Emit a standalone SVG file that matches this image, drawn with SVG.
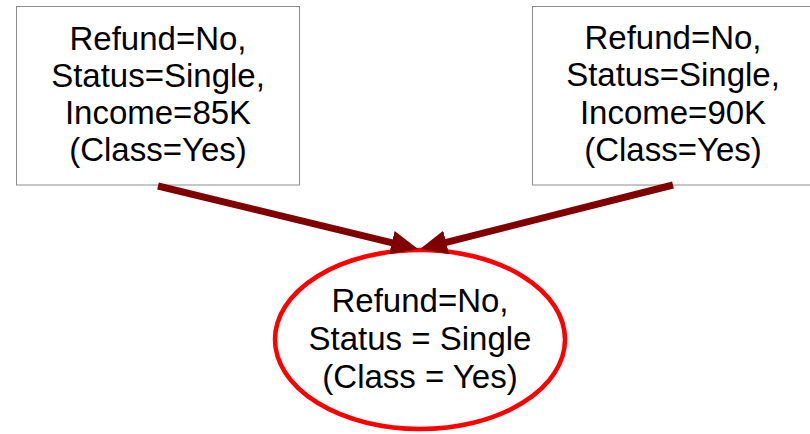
<svg xmlns="http://www.w3.org/2000/svg" width="810" height="434" viewBox="0 0 810 434">
<style>
.box{fill:#ffffff;stroke:#8c8c8c;stroke-width:1}
.oval{fill:#ffffff;stroke:#ff0000;stroke-width:4.5}
.t{font-family:"Liberation Sans",Arial,sans-serif;font-size:33px;fill:#000000;text-anchor:middle}
.edge{fill:none;stroke:#800000;stroke-width:7}
</style>
<defs>
<marker id="ah" viewBox="0 0 27 24" refX="7" refY="12" markerWidth="27" markerHeight="24" markerUnits="userSpaceOnUse" orient="auto">
<path d="M0,0 L27,12 L0,24 z" fill="#800000"/>
</marker>
</defs>
<rect width="810" height="434" fill="#ffffff"/>
<g id="node-left">
<rect class="box" x="16.5" y="6.5" width="283" height="178.5"/>
<text class="t" x="158" y="49.5">Refund=No,</text>
<text class="t" x="158" y="86.5">Status=Single,</text>
<text class="t" x="158" y="124">Income=85K</text>
<text class="t" x="158" y="161">(Class=Yes)</text>
</g>
<g id="node-right">
<rect class="box" x="532.5" y="6.5" width="290" height="178.5"/>
<text class="t" x="673" y="49">Refund=No,</text>
<text class="t" x="673" y="86">Status=Single,</text>
<text class="t" x="673" y="123.5">Income=90K</text>
<text class="t" x="673" y="160.5">(Class=Yes)</text>
</g>
<g id="node-bottom">
<ellipse class="oval" cx="420" cy="339.5" rx="145" ry="89.5"/>
<text class="t" x="420" y="312">Refund=No,</text>
<text class="t" x="420" y="350">Status = Single</text>
<text class="t" x="420" y="388">(Class = Yes)</text>
</g>
<g id="connectors">
<path class="edge" d="M158,186 L398.6,244.3" marker-end="url(#ah)"/>
<path class="edge" d="M673,185 L439.4,244.1" marker-end="url(#ah)"/>
</g>
</svg>
